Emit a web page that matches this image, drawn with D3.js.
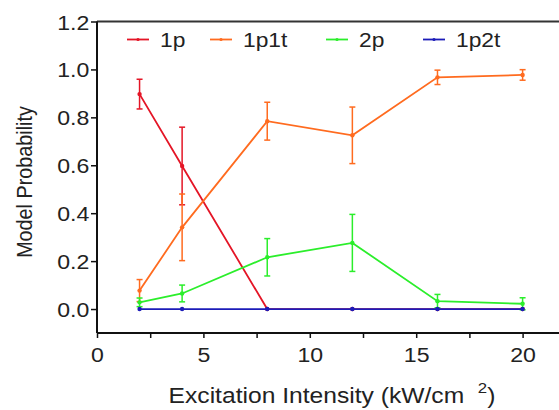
<!DOCTYPE html>
<html><head><meta charset="utf-8">
<script src="https://cdn.jsdelivr.net/npm/d3@7"></script>
<style>body{margin:0;background:#fff}svg{display:block}text{font-family:"Liberation Sans",Arial,sans-serif;fill:#222}</style>
</head><body>
<script>
const xValues = [2, 4, 8, 12, 16, 20];
const seriesNames = ["1p", "1p1t", "2p", "1p2t"];
const colors = ["#e41526", "#ff6b1f", "#2bee2b", "#1c1cb8"];
const p1 = [0.897, 0.597, 0.0, 0.0, 0.0, 0.0];
const p1Err = [0.062, 0.162, 0, 0, 0, 0];
const p1t = [0.077, 0.341, 0.784, 0.725, 0.967, 0.977];
const p1tErr = [0.046, 0.139, 0.079, 0.118, 0.030, 0.022];
const p2 = [0.028, 0.065, 0.216, 0.276, 0.033, 0.022];
const p2Err = [0.018, 0.035, 0.078, 0.119, 0.028, 0.025];
const p2t = [0, 0, 0, 0, 0, 0];
const p2tErr = [0, 0, 0, 0, 0, 0];
const xTicks = [0, 5, 10, 15, 20];
const yTicks = [0.0, 0.2, 0.4, 0.6, 0.8, 1.0, 1.2];

const values = [p1, p1t, p2, p2t];
const errs = [p1Err, p1tErr, p2Err, p2tErr];

const W = 559, H = 410;
const svg = d3.select("body").append("svg").attr("width", W).attr("height", H);
const x = d3.scaleLinear().domain([0, 22]).range([97, 97 + 22 * 21.28]);
const y = d3.scaleLinear().domain([-0.1, 1.2]).range([333, 21.5]);

// top frame line
svg.append("line").attr("x1", x(0)).attr("x2", W).attr("y1", y(1.2)).attr("y2", y(1.2))
  .attr("stroke", "#333").attr("stroke-width", 2);

// x axis
const xAxis = svg.append("g").attr("transform", `translate(0,${y(-0.1)})`)
  .call(d3.axisBottom(x).tickValues(d3.range(0, 22.5, 2.5)).tickSize(5).tickFormat(d => xTicks.includes(d) ? d : ""));
xAxis.select(".domain").attr("stroke", "#111").attr("stroke-width", 2).attr("d", `M${x(0)},0H${W}`);
xAxis.selectAll(".tick line").attr("stroke", "#111").attr("stroke-width", 1.5);
xAxis.selectAll(".tick text").attr("font-size", 21).attr("dy", "1.0em").attr("transform", "scale(1.1,1)")
  .style("font-family", "Liberation Sans, Arial, sans-serif").attr("fill", "#222");

// y axis
const yAxis = svg.append("g").attr("transform", `translate(${x(0)},0)`)
  .call(d3.axisLeft(y).tickValues(yTicks).tickSize(6).tickPadding(1).tickFormat(d3.format(".1f")));
yAxis.select(".domain").attr("stroke", "#111").attr("stroke-width", 2).attr("d", `M0,${y(1.2)}V${y(-0.1)}`);
yAxis.selectAll(".tick line").attr("stroke", "#111").attr("stroke-width", 1.5);
yAxis.selectAll(".tick text").attr("font-size", 21).attr("dy", "0.36em").attr("transform", "scale(1.1,1)")
  .style("font-family", "Liberation Sans, Arial, sans-serif").attr("fill", "#222");

// axis titles
const xt = svg.append("text").attr("transform", "translate(332,403) scale(1.12,1)").attr("text-anchor", "middle").attr("font-size", 22);
xt.append("tspan").text("Excitation Intensity (kW/cm\u00a0\u00a0");
xt.append("tspan").attr("font-size", 15).attr("dy", -10).text("2");
xt.append("tspan").attr("dy", 10).text(")");
svg.append("text").attr("transform", "translate(32,182) rotate(-90) scale(0.9,1)").attr("text-anchor", "middle")
  .attr("font-size", 22).text("Model Probability");

const line = d3.line().x((d, i) => x(xValues[i])).y(d => y(d));
seriesNames.forEach((name, s) => {
  const g = svg.append("g");
  const c = colors[s];
  g.append("path").attr("d", line(values[s])).attr("fill", "none").attr("stroke", c).attr("stroke-width", 1.8);
  values[s].forEach((v, i) => {
    const e = errs[s][i];
    if (e > 0) {
      const cx = x(xValues[i]);
      g.append("line").attr("x1", cx).attr("x2", cx).attr("y1", y(v - e)).attr("y2", y(v + e)).attr("stroke", c).attr("stroke-width", 1.5);
      [v - e, v + e].forEach(t => g.append("line").attr("x1", cx - 3).attr("x2", cx + 3).attr("y1", y(t)).attr("y2", y(t)).attr("stroke", c).attr("stroke-width", 1.5));
    }
    g.append("circle").attr("cx", x(xValues[i])).attr("cy", y(v)).attr("r", 2.2).attr("fill", c);
  });
});

// legend
const legX = [127, 210, 326, 423];
seriesNames.forEach((name, s) => {
  const g = svg.append("g").attr("transform", `translate(${legX[s]},39.5)`);
  g.append("line").attr("x1", 0).attr("x2", 22).attr("stroke", colors[s]).attr("stroke-width", 1.8);
  g.append("circle").attr("cx", 11).attr("r", 1.6).attr("fill", colors[s]);
  g.append("text").attr("transform", "translate(33,7) scale(1.14,1)").attr("font-size", 20).text(name);
});
</script>
</body></html>
